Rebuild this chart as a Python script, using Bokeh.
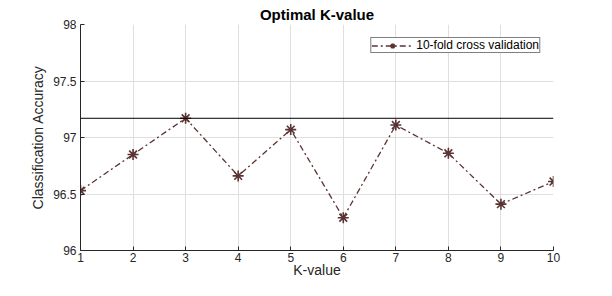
from bokeh.plotting import figure
from bokeh.models import Span, Legend, LegendItem, FixedTicker
from bokeh.embed import file_html
from bokeh.resources import INLINE

k_values = [1, 2, 3, 4, 5, 6, 7, 8, 9, 10]
accuracy = [96.53, 96.85, 97.17, 96.66, 97.07, 96.29, 97.11, 96.86, 96.41, 96.61]
best_accuracy = 97.17
x_ticks = [1, 2, 3, 4, 5, 6, 7, 8, 9, 10]
y_ticks = [96, 96.5, 97, 97.5, 98]
series_name = "10-fold cross validation"

FONT = "Liberation Sans"
TXT = "#262626"
COL = "#5c3333"

p = figure(width=596, height=280, output_backend="svg", toolbar_location=None,
           x_range=(1, 10), y_range=(96, 98),
           min_border_left=80, min_border_right=43, min_border_top=24, min_border_bottom=28,
           title="Optimal K-value")
p.outline_line_color = None
p.background_fill_color = "white"
p.border_fill_color = "white"

p.title.align = "center"
p.title.text_font = FONT
p.title.text_font_size = "15px"
p.title.text_font_style = "bold"
p.title.text_color = "#000000"
p.title.offset = 0
p.title.standoff = 4

for ax in (p.xaxis, p.yaxis):
    ax.axis_line_color = TXT
    ax.major_tick_line_color = TXT
    ax.major_tick_in = 4
    ax.major_tick_out = 0
    ax.minor_tick_line_color = None
    ax.major_label_text_font = FONT
    ax.major_label_text_font_size = "12px"
    ax.major_label_text_color = TXT
    ax.axis_label_text_font = FONT
    ax.axis_label_text_font_size = "14px"
    ax.axis_label_text_font_style = "normal"
    ax.axis_label_text_color = TXT

p.xaxis.ticker = FixedTicker(ticks=x_ticks)
p.yaxis.ticker = FixedTicker(ticks=y_ticks)
p.yaxis.major_label_overrides = {96: "96", 96.5: "96.5", 97: "97", 97.5: "97.5", 98: "98"}
p.xaxis.axis_label = "K-value"
p.yaxis.axis_label = "Classification Accuracy"
p.xaxis.major_label_standoff = 2
p.xaxis.axis_label_standoff = -3
p.yaxis.major_label_standoff = 4
p.yaxis.axis_label_standoff = 4

p.grid.grid_line_color = "#dfdfdf"
p.grid.grid_line_width = 1

span = Span(location=best_accuracy, dimension="width", line_color="black", line_width=1)
p.add_layout(span)

ln = p.line(k_values, accuracy, line_color=COL, line_width=1.3, line_dash="6 3 2 3")
mk = p.scatter(k_values, accuracy, marker="asterisk", size=11, line_color=COL, line_width=1.6)

legend = Legend(items=[LegendItem(label=series_name, renderers=[ln, mk])],
                location="top_right", margin=13, padding=0, spacing=0,
                glyph_width=42, glyph_height=13, label_height=12, label_standoff=3,
                label_text_font=FONT, label_text_font_size="12px", label_text_color="#000000",
                border_line_color="black", border_line_width=1,
                background_fill_color="white", background_fill_alpha=1)
p.add_layout(legend, "center")

open("out.html", "w").write(file_html(p, INLINE))
